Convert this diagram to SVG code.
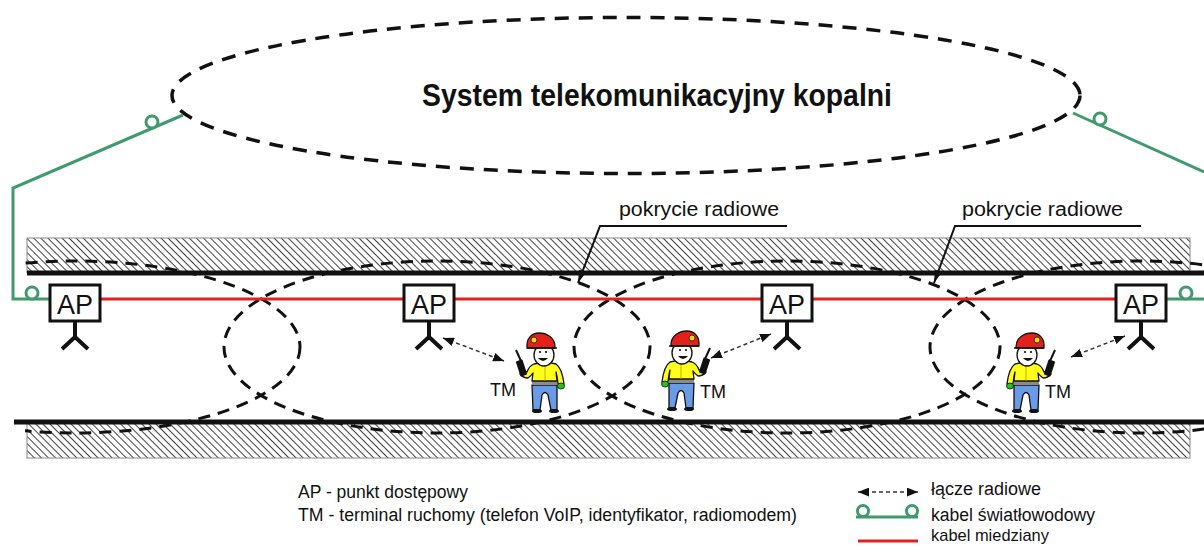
<svg xmlns="http://www.w3.org/2000/svg" xmlns:xlink="http://www.w3.org/1999/xlink" width="1204" height="547" viewBox="0 0 1204 547">
  <style>
    .txt { font-family: "Liberation Sans", Arial, sans-serif; fill: #111; }
    .title { font-family: "Liberation Sans", Arial, sans-serif; font-weight: bold; fill: #111; }
    .aptxt { font-family: "Liberation Sans", Arial, sans-serif; font-size: 27px; fill: #111; }
    .fiber { fill: none; stroke: #3f9a6e; stroke-width: 3; }
    .loop { fill: #fff; stroke: #3f9a6e; stroke-width: 3; }
    .copper { fill: none; stroke: #e4201c; stroke-width: 3; }
    .wall { fill: url(#hatch); stroke: #888; stroke-width: 1; }
    .rail { stroke: #111; stroke-width: 5; }
    .cover { fill: none; stroke: #111; stroke-width: 3; stroke-dasharray: 12 8; }
    .system { fill: none; stroke: #111; stroke-width: 3.5; stroke-dasharray: 14 10; }
    .apbox { fill: #fff; stroke: #111; stroke-width: 3; }
    .ant { fill: none; stroke: #111; stroke-width: 4; }
    .link { fill: none; stroke: #333; stroke-width: 1.5; stroke-dasharray: 4 3; marker-start: url(#tip); marker-end: url(#tip); }
    .leader { fill: none; stroke: #111; stroke-width: 2; }
    .outl { stroke: #111; stroke-width: 1.3; stroke-linejoin: round; }
  </style>
  <defs>
    <pattern id="hatch" width="5" height="10" patternUnits="userSpaceOnUse" patternTransform="rotate(-45)">
      <line x1="0.5" y1="0" x2="0.5" y2="10" stroke="#444" stroke-width="1"/>
    </pattern>
    <marker id="tip" viewBox="0 0 10 8" refX="10" refY="4" markerWidth="11" markerHeight="9" markerUnits="userSpaceOnUse" orient="auto-start-reverse">
      <path d="M0,0 L10,4 L0,8 Z" fill="#111"/>
    </marker>
    <marker id="pointer" viewBox="0 0 12 7" refX="12" refY="3.5" markerWidth="13" markerHeight="8" markerUnits="userSpaceOnUse" orient="auto">
      <path d="M0,0 L12,3.5 L0,7 Z" fill="#111"/>
    </marker>
    <clipPath id="tunnel">
      <rect x="25" y="200" width="1179" height="270"/>
    </clipPath>
    <!-- miner holding a handheld radio -->
    <g id="miner">
      <!-- trousers -->
      <path class="outl" fill="#6a9be6" d="M14,55 L39,55 L38,80 L31,80 L29,65 Q26,60 23,65 L20,80 L14,80 Z"/>
      <ellipse cx="17" cy="81" rx="5" ry="2" fill="#111"/>
      <ellipse cx="34" cy="81" rx="5" ry="2" fill="#111"/>
      <!-- belt -->
      <rect x="14" y="51" width="25" height="4" fill="#8a8a8a"/>
      <!-- shirt and arms -->
      <path class="outl" fill="#ffff1a" d="M15,34 Q9,38 7,54 L13,54 Q14,45 15,42 L14,51 L39,51 L38,43 Q40,46 43,48 Q48,48 51,44 L48,41 L44,42 Q42,36 37,34 Q26,31 15,34 Z"/>
      <line x1="26" y1="36" x2="26" y2="51" stroke="#b0a000" stroke-width="0.8"/>
      <!-- glove -->
      <ellipse cx="10" cy="56" rx="3.5" ry="3" fill="#22c322" stroke="#111" stroke-width="0.8"/>
      <!-- radio -->
      <line x1="50" y1="31" x2="55" y2="20" stroke="#111" stroke-width="2"/>
      <rect x="46" y="30" width="7" height="16" rx="1" fill="#111" transform="rotate(18 49.5 38)"/>
      <!-- head -->
      <ellipse class="outl" cx="27" cy="25" rx="10" ry="11" fill="#fff"/>
      <circle cx="25" cy="22" r="1.1" fill="#111"/>
      <circle cx="31" cy="22" r="1.1" fill="#111"/>
      <path d="M23,28 Q28,34 33,28 Z" fill="#111"/>
      <!-- helmet with lamp -->
      <path class="outl" fill="#e4201c" d="M16,17 C16,7 25,3 32,3 C39,3 44,8 44,15 L44,18 L16,18 Z"/>
      <line x1="14" y1="18" x2="44" y2="18" stroke="#111" stroke-width="1.5"/>
      <circle cx="37" cy="10" r="3" fill="#ffd400" stroke="#111" stroke-width="0.8"/>
    </g>
  </defs>

  <rect width="1204" height="547" fill="#fff"/>

  <!-- mine telecom system -->
  <g id="system">
    <ellipse class="system" cx="626" cy="95.5" rx="454" ry="78"/>
    <text class="title" x="657" y="106" font-size="32" text-anchor="middle" textLength="470" lengthAdjust="spacingAndGlyphs">System telekomunikacyjny kopalni</text>
  </g>

  <!-- tunnel walls -->
  <g id="walls">
    <rect class="wall" x="27" y="238" width="1163" height="35"/>
    <rect class="wall" x="27" y="422" width="1163" height="36"/>
    <line class="rail" x1="27" y1="273" x2="1204" y2="273"/>
    <line class="rail" x1="14" y1="422" x2="1204" y2="422"/>
  </g>

  <!-- radio coverage zones -->
  <g id="coverage" clip-path="url(#tunnel)">
    <ellipse class="cover" cx="75" cy="347" rx="225" ry="86"/>
    <ellipse class="cover" cx="437" cy="347" rx="213" ry="86"/>
    <ellipse class="cover" cx="787" cy="347" rx="213" ry="86"/>
    <ellipse class="cover" cx="1141" cy="347" rx="211" ry="86"/>
  </g>

  <!-- connectors -->
  <g id="connectors">
    <line class="copper" x1="100" y1="299" x2="1117" y2="299"/>
    <polyline class="fiber" points="50,299 13,299 13,188 183,115"/>
    <circle class="loop" cx="32" cy="293" r="6"/>
    <circle class="loop" cx="152" cy="122" r="6"/>
    <polyline class="fiber" points="1073,113 1204,172"/>
    <circle class="loop" cx="1100" cy="119" r="6"/>
    <line class="fiber" x1="1167" y1="299" x2="1204" y2="299"/>
    <circle class="loop" cx="1186" cy="293" r="6"/>
    <line class="link" x1="443" y1="338" x2="504" y2="361"/>
    <line class="link" x1="711" y1="358" x2="771" y2="334"/>
    <line class="link" x1="1071" y1="357" x2="1125" y2="336"/>
  </g>

  <!-- access points -->
  <g id="ap1">
    <rect class="apbox" x="50" y="285" width="50" height="36"/>
    <text class="aptxt" x="75" y="314" text-anchor="middle">AP</text>
    <path class="ant" d="M75,322 V337 M62,349 L75,337 L88,349"/>
  </g>
  <g id="ap2">
    <rect class="apbox" x="404" y="285" width="50" height="36"/>
    <text class="aptxt" x="429" y="314" text-anchor="middle">AP</text>
    <path class="ant" d="M429,322 V337 M416,349 L429,337 L442,349"/>
  </g>
  <g id="ap3">
    <rect class="apbox" x="762" y="285" width="50" height="36"/>
    <text class="aptxt" x="787" y="314" text-anchor="middle">AP</text>
    <path class="ant" d="M787,322 V337 M774,349 L787,337 L800,349"/>
  </g>
  <g id="ap4">
    <rect class="apbox" x="1116" y="285" width="50" height="36"/>
    <text class="aptxt" x="1141" y="314" text-anchor="middle">AP</text>
    <path class="ant" d="M1141,322 V337 M1128,349 L1141,337 L1154,349"/>
  </g>

  <!-- mobile terminals -->
  <g id="tm1">
    <use xlink:href="#miner" href="#miner" transform="translate(571 330) scale(-1 1)"/>
    <text class="txt" x="490" y="396" font-size="18">TM</text>
  </g>
  <g id="tm2">
    <use xlink:href="#miner" href="#miner" transform="translate(655 328)"/>
    <text class="txt" x="700" y="398" font-size="18">TM</text>
  </g>
  <g id="tm3">
    <use xlink:href="#miner" href="#miner" transform="translate(1000 330)"/>
    <text class="txt" x="1045" y="398" font-size="18">TM</text>
  </g>

  <!-- coverage callouts -->
  <g id="callout1">
    <text class="txt" x="619" y="216" font-size="20" textLength="160" lengthAdjust="spacingAndGlyphs">pokrycie radiowe</text>
    <polyline class="leader" points="787,226 600,226 578,283" marker-end="url(#pointer)"/>
  </g>
  <g id="callout2">
    <text class="txt" x="962" y="216" font-size="20" textLength="161" lengthAdjust="spacingAndGlyphs">pokrycie radiowe</text>
    <polyline class="leader" points="1141,226 955,226 934,283" marker-end="url(#pointer)"/>
  </g>

  <!-- legend -->
  <g id="legend">
    <text class="txt" x="298" y="498" font-size="18" textLength="170" lengthAdjust="spacingAndGlyphs">AP - punkt dostępowy</text>
    <text class="txt" x="298" y="521" font-size="18" textLength="499" lengthAdjust="spacingAndGlyphs">TM - terminal ruchomy (telefon VoIP, identyfikator, radiomodem)</text>
    <line class="link" x1="858" y1="492" x2="918" y2="492"/>
    <line class="fiber" x1="856" y1="517" x2="918" y2="517"/>
    <circle class="loop" cx="863" cy="511" r="5.5"/>
    <circle class="loop" cx="912" cy="511" r="5.5"/>
    <line class="copper" x1="858" y1="541" x2="918" y2="541"/>
    <text class="txt" x="931" y="495" font-size="18" textLength="110" lengthAdjust="spacingAndGlyphs">łącze radiowe</text>
    <text class="txt" x="931" y="521" font-size="18" textLength="164" lengthAdjust="spacingAndGlyphs">kabel światłowodowy</text>
    <text class="txt" x="931" y="541" font-size="17" textLength="118" lengthAdjust="spacingAndGlyphs">kabel miedziany</text>
  </g>
</svg>
